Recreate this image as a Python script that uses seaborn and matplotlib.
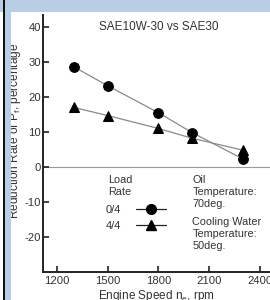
import matplotlib
matplotlib.use("Agg")
import matplotlib.pyplot as plt
import seaborn as sns
import pandas as pd
from matplotlib.lines import Line2D
from matplotlib.patches import Rectangle

speed = [1300, 1500, 1800, 2000, 2300]
load_0_4 = [28.6, 23.2, 15.5, 9.8, 2.3]
load_4_4 = [17.0, 14.7, 11.0, 8.2, 4.8]
xticks = [1200, 1500, 1800, 2100, 2400]
yticks = [-20, -10, 0, 10, 20, 30, 40]

sns.set_theme(style="white")
plt.rcParams['font.family'] = ['Liberation Sans', 'DejaVu Sans']
plt.rcParams['mathtext.default'] = 'regular'
plt.rcParams['axes.unicode_minus'] = False

txt = '#333333'
fig = plt.figure(figsize=(2.7, 3.0), dpi=100)
fig.patch.set_facecolor('white')
# frame decorations
fig.patches.append(Rectangle((0, 0.96), 1, 0.04, transform=fig.transFigure,
                             facecolor='#b9cde5', edgecolor='none', zorder=0))
fig.patches.append(Rectangle((0.018, 0), 0.024, 1, transform=fig.transFigure,
                             facecolor='#b9cde5', edgecolor='none', zorder=0))
fig.patches.append(Rectangle((0.010, 0), 0.008, 1, transform=fig.transFigure,
                             facecolor='#111111', edgecolor='none', zorder=0))

ax = fig.add_axes([0.159, 0.093, 0.841, 0.857])
ax.set_facecolor('none')

df0 = pd.DataFrame({'speed': speed, 'rate': load_0_4})
df4 = pd.DataFrame({'speed': speed, 'rate': load_4_4})
sns.lineplot(data=df0, x='speed', y='rate', ax=ax, color='#8a8a8a', lw=0.9,
             marker='o', markersize=7, markerfacecolor='black', markeredgecolor='black')
sns.lineplot(data=df4, x='speed', y='rate', ax=ax, color='#8a8a8a', lw=0.9,
             marker='^', markersize=7.5, markerfacecolor='black', markeredgecolor='black')

ax.axhline(0, color='#999999', lw=0.8, zorder=0)

ax.set_xlim(1117, 2460)
ax.set_ylim(-30, 43.4)
ax.set_xticks(xticks)
ax.set_yticks(yticks)
ax.tick_params(direction='in', length=4, width=1.2, colors='#222222', labelcolor=txt,
               labelsize=8.1, left=True, bottom=True)
ax.tick_params(axis='y', pad=1.5)
ax.tick_params(axis='x', pad=2.5)
for s in ['top', 'right']:
    ax.spines[s].set_visible(False)
for s in ['left', 'bottom']:
    ax.spines[s].set_color('#222222')
    ax.spines[s].set_linewidth(1.4)

ax.set_xlabel('Engine Speed n$_e$, rpm', fontsize=8.5, color=txt, labelpad=2)
ax.set_ylabel('Reduction Rate of P$_f$, percentage', fontsize=8.6, color=txt)
ax.yaxis.set_label_coords(-0.088, 0.55)

ax.text(1800, 40, 'SAE10W-30 vs SAE30', ha='center', va='center', fontsize=8.5, color=txt)
ax.text(1500, -2.3, 'Load\nRate', ha='left', va='top', fontsize=7.8, color=txt, linespacing=1.25)
ax.text(2000, -2.3, 'Oil\nTemperature:\n70deg.', ha='left', va='top', fontsize=7.8,
        color=txt, linespacing=1.25)
ax.text(2000, -14.3, 'Cooling Water\nTemperature:\n50deg.', ha='left', va='top', fontsize=7.8,
        color=txt, linespacing=1.25)

handles = [Line2D([], [], color='#222222', lw=0.9, marker='o', markersize=7,
                  markerfacecolor='black', markeredgecolor='black'),
           Line2D([], [], color='#222222', lw=0.9, marker='^', markersize=7.5,
                  markerfacecolor='black', markeredgecolor='black')]
leg = ax.legend(handles, ['0/4', '4/4'], markerfirst=False, frameon=False,
                loc='upper left', bbox_to_anchor=(0.275, 0.262), fontsize=8,
                handlelength=2.7, handletextpad=1.4, labelspacing=0.55,
                borderaxespad=0, borderpad=0)
for t in leg.get_texts():
    t.set_color(txt)

fig.savefig('out.png', dpi=100)
